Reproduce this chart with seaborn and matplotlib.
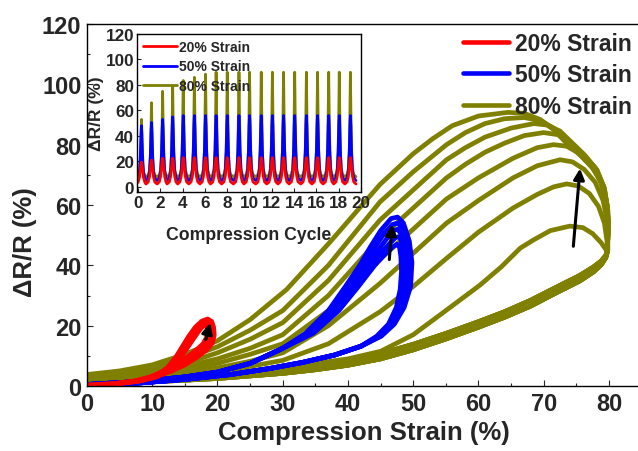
import matplotlib
matplotlib.use('Agg')
import matplotlib.pyplot as plt
from matplotlib.lines import Line2D
import seaborn as sns

# ---------------- colours / labels ----------------
c20, c50, c80 = '#FF0000', '#0000FF', '#808000'
labels = ['20% Strain', '50% Strain', '80% Strain']

# ---------------- main plot: hysteresis loops ----------------
# 20% strain loops (full loop, loading then unloading)
red_loops = [
    ([0, 4, 8, 10.5, 12.3, 13.6, 14.6, 15.6, 16.6, 17.6, 18.5, 19.1, 19.4, 19.5, 19.2, 18.4, 16.9, 15, 12.8, 10.3, 7.5, 4, 0],
     [0.3, 0.8, 1.8, 3.3, 6, 9.5, 13, 16.5, 19.5, 21.5, 22.2, 21.4, 19.5, 16.8, 14.2, 12.1, 9.6, 7, 4.8, 2.9, 1.5, 0.6, 0]),
    ([0, 4, 8, 10.6, 12.5, 13.8, 14.8, 15.8, 16.8, 17.6, 18.3, 18.8, 19.0, 18.9, 18.5, 17.7, 16.2, 14.4, 12.4, 10, 7.3, 4, 0],
     [0.2, 0.7, 1.7, 3.1, 5.7, 9, 12.4, 15.8, 18.7, 20.6, 21.3, 20.5, 18.8, 16.5, 14.3, 12.3, 9.9, 7.4, 5, 3, 1.6, 0.6, 0]),
    ([0, 4, 8, 10.7, 12.7, 14, 15.1, 16.1, 17, 17.6, 18.1, 18.4, 18.5, 18.3, 17.8, 16.9, 15.6, 13.9, 12, 9.8, 7.2, 4, 0],
     [0.2, 0.6, 1.6, 3, 5.5, 8.6, 11.8, 15, 17.8, 19.5, 20.2, 19.5, 18, 16, 14, 12.2, 10, 7.6, 5.2, 3.1, 1.6, 0.6, 0]),
]

# 50% strain loops: common start, per-cycle top, common end
blue_start_x = [0, 8, 15, 20, 25, 30]
blue_start_y = [0.5, 1.5, 3, 4.6, 7.5, 12.5]
blue_tops = [
    ([33.5, 37, 39.6, 41.8, 43.4, 45, 46.6, 47.6, 48.5, 49.4, 49.8, 49.6, 48.6, 47.1, 45.1],
     [17.5, 25, 33, 40, 46, 51.5, 55.5, 56, 54, 48, 41, 33, 26, 20.5, 16.5]),
    ([33.8, 37.4, 40.1, 42.4, 44, 45.5, 46.8, 47.6, 48.3, 49.1, 49.4, 49.2, 48.3, 46.8, 44.9],
     [17.5, 25, 33, 40, 45.5, 50.5, 53.5, 54, 52.5, 47, 40.5, 33, 26, 20.5, 16.5]),
    ([34.1, 37.8, 40.6, 43, 44.6, 46, 47, 47.6, 48.1, 48.7, 49, 48.8, 48, 46.6, 44.8],
     [17.5, 25, 33, 40, 45, 49, 51.5, 52, 50.5, 46, 40, 33, 26, 20.5, 16.5]),
    ([34.4, 38.2, 41.1, 43.6, 45.2, 46.5, 47.3, 47.8, 48.1, 48.4, 48.6, 48.4, 47.7, 46.4, 44.6],
     [17.5, 25, 33, 40, 44.5, 47.5, 49.2, 49.5, 48.5, 45, 40, 33, 26, 20.5, 16.5]),
    ([34.7, 38.6, 41.6, 44.1, 45.6, 46.8, 47.5, 47.9, 48.1, 48.2, 48, 47.4, 46.2, 44.4],
     [17.5, 25, 33, 40, 43.5, 46, 47, 46, 43, 38, 32, 26, 20.5, 16.5]),
]
blue_end_x = [42, 38, 33, 28, 22, 15, 8, 0]
blue_end_y = [13.2, 10.3, 7.8, 5.8, 3.8, 2.2, 1, 0.3]

# 80% strain loops: rising branch + peak + right side per cycle, then return branch
olive_tops = [
    ([0, 10, 20, 30, 40, 45, 50, 55, 60.2, 63.5, 66.4, 68.5, 71, 74, 76, 77.5, 78.8, 79.6],
     [2, 2.5, 4, 6, 9, 11.5, 17, 25, 33.4, 39.5, 45.7, 48.5, 51.5, 53, 52.5, 50.5, 47.5, 45]),
    ([0, 5, 10, 15, 20, 25, 30, 37, 44.9, 50, 55.1, 60, 65.3, 69, 71.5, 73.5, 75.3, 77, 78.4, 79.3, 79.7],
     [2.3, 2.6, 3, 3.8, 5, 6.5, 8.5, 14, 24.6, 33, 42.3, 51, 59, 63.5, 66, 67, 66.3, 63.8, 59.5, 54, 48]),
    ([0, 5, 10, 15, 20, 25, 30, 37, 44.9, 50, 55.1, 60, 65.3, 69, 72.5, 74.4, 76.2, 77.9, 79.1, 79.7, 79.8],
     [2.5, 3, 3.5, 4.6, 6, 8.2, 11, 20, 34, 44, 54, 61.5, 69, 73, 75, 74.3, 71.8, 67.5, 61.5, 55, 48]),
    ([0, 5, 10, 15, 20, 25, 30, 37, 44.9, 50, 55.1, 60, 65.3, 69, 71.5, 73.5, 75.3, 77.1, 78.6, 79.5, 79.9, 79.8],
     [2.7, 3.3, 4, 5.5, 7.5, 10.5, 14, 25, 42, 52, 62, 69, 75.5, 79, 80, 79.5, 77.3, 73.5, 68.5, 62, 55, 48]),
    ([0, 5, 10, 15, 20, 25, 30, 37, 44.9, 50, 55.1, 58, 61, 64, 67, 70, 72.2, 74, 75.9, 78, 79.3, 79.8, 79.9, 79.8],
     [3, 3.6, 4.5, 6.5, 9, 12.5, 17, 30, 49, 59, 69, 73.5, 77.5, 80.5, 83, 84, 83.3, 81, 77.2, 72, 65.5, 58.5, 52, 48]),
    ([0, 5, 10, 15, 20, 25, 30, 37, 44.9, 50, 55.1, 58, 61, 65, 68.5, 70.5, 72.5, 74.4, 76.3, 78.2, 79.3, 79.8, 79.9, 79.8],
     [3.2, 4, 5, 7.5, 11, 15.5, 21, 35, 55, 65, 75, 79, 82.5, 85.5, 87, 86.5, 84.5, 80.5, 76.5, 71.5, 65.5, 58.5, 52, 48]),
    ([0, 5, 10, 15, 20, 25, 30, 37, 44.9, 50, 55.1, 58, 61, 64, 67, 69.5, 71.5, 73.5, 75.8, 77.9, 79.2, 79.8, 79.9, 79.8],
     [3.5, 4.5, 6, 9, 13, 18.5, 25, 40, 61, 71, 80, 84, 87, 88.6, 89, 88, 85.5, 81.5, 77.2, 72.3, 66, 59, 52, 48]),
    ([0, 5, 10, 15, 20, 25, 30.6, 37.2, 44.9, 50, 53, 56, 60, 64.5, 67, 69.5, 71.5, 73.5, 75.6, 77.6, 79, 79.7, 79.9, 79.8],
     [3.8, 5, 7, 10.5, 15, 22, 32, 47.6, 66.8, 77, 82, 86.3, 89.5, 90.7, 90.4, 88.3, 85, 80.5, 76.5, 72, 66.5, 60, 53, 48]),
]
olive_ret_x = [79.8, 79.5, 78.8, 77.6, 75.5, 72, 68, 64, 60, 55, 50, 45, 40, 35, 30, 20, 10, 0]
olive_ret_a = [45, 42.5, 40.2, 37.8, 34.8, 31, 26.5, 22.8, 19.5, 15.6, 12, 9, 6.9, 5.4, 4.2, 2.5, 1.4, 0.8]
olive_ret_b = [45, 43.2, 41.4, 39.4, 36.6, 32.8, 28.4, 24.6, 21.3, 17.4, 13.8, 10.7, 8.4, 6.6, 5.1, 3.0, 1.8, 1.0]

# arrows (tail -> tip)
arrows = [((18.1, 14.5), (19.0, 21.8)), ((46.3, 41), (46.8, 54.5)), ((74.5, 45.4), (75.6, 73))]

# ---------------- inset: response vs compression cycle ----------------
cycle_peak_t = [0.3, 1.2, 2.2, 3.1, 4.05, 5.05, 6.05, 7.0, 8.0, 9.05,
                10.0, 11.05, 12.05, 13.05, 14.05, 15.1, 16.1, 17.1, 18.05, 19.05]
peak_20 = [19.5, 21, 22.5, 22.5, 23, 23, 23, 23, 23, 23, 23, 23, 23, 23, 23, 23, 23, 23, 23, 23]
peak_50 = [48, 50.5, 53, 55, 56, 56, 56, 56, 56, 56, 56, 56, 56, 56, 56, 56, 56, 56, 56, 56]
peak_80 = [53, 66, 75, 79.5, 83.5, 86, 88.5, 90, 90, 90, 90, 90, 90, 90, 90, 90, 90, 90, 90, 90]
valley_20, valley_50, valley_80 = 2.3, 5, 8
pulse_dt = [-0.5, -0.3, -0.18, -0.1, -0.04, 0, 0.04, 0.1, 0.18, 0.3]
shape_20 = [0, 0.08, 0.3, 0.65, 0.92, 1, 0.92, 0.65, 0.3, 0.08]
shape_50 = [0, 0.04, 0.15, 0.45, 0.85, 1, 0.85, 0.45, 0.15, 0.04]
shape_80 = [0, 0.02, 0.08, 0.25, 0.65, 1, 0.65, 0.25, 0.08, 0.02]


def pulse_train(peaks, valley, shape):
    t, v = [], []
    for tp, pk in zip(cycle_peak_t, peaks):
        for dt, f in zip(pulse_dt, shape):
            t.append(tp + dt)
            v.append(valley + f * (pk - valley))
    t.append(cycle_peak_t[-1] + 0.5)
    v.append(valley)
    return t, v


# ---------------- style ----------------
sns.set_theme(style='ticks')
plt.rcParams['font.family'] = ['Liberation Sans', 'DejaVu Sans']
plt.rcParams.update({
    'font.weight': 'bold', 'axes.labelweight': 'bold',
    'xtick.direction': 'in', 'ytick.direction': 'in',
    'axes.linewidth': 1.0, 'axes.edgecolor': 'black',
})

fig = plt.figure(figsize=(6.38, 4.52), dpi=100)
ax = fig.add_axes([87 / 638, 1 - 387 / 452, (641.6 - 87) / 638, (387 - 25) / 452])

LW = 3.4
for i, (ux, uy) in enumerate(olive_tops):
    ret = olive_ret_a if i % 2 == 0 else olive_ret_b
    sns.lineplot(x=ux + olive_ret_x, y=uy + ret, sort=False, estimator=None,
                 color=c80, lw=LW, ax=ax)
for tx, ty in blue_tops:
    sns.lineplot(x=blue_start_x + tx + blue_end_x, y=blue_start_y + ty + blue_end_y,
                 sort=False, estimator=None, color=c50, lw=LW, ax=ax)
for rx, ry in red_loops:
    sns.lineplot(x=rx, y=ry, sort=False, estimator=None, color=c20, lw=LW, ax=ax)

for tail, tip in arrows:
    ax.annotate('', xy=tip, xytext=tail,
                arrowprops=dict(arrowstyle='-|>', color='black', lw=2.2, mutation_scale=16))

ax.set_xlim(0, 85)
ax.set_ylim(0, 120)
ax.set_xticks(range(0, 81, 10))
ax.set_xticks(range(5, 85, 10), minor=True)
ax.set_yticks(range(0, 121, 20))
ax.set_yticks(range(10, 120, 20), minor=True)
ax.tick_params(which='major', length=4, width=0.8, labelsize=17, pad=4)
ax.tick_params(which='minor', length=2.5, width=0.8)
ax.spines['right'].set_visible(False)
ax.set_xlabel('Compression Strain (%)', fontsize=18.5, labelpad=4)
ax.set_ylabel('\u0394R/R (%)', fontsize=18.5)
ax.yaxis.set_label_coords(-0.09, 0.40)

handles = [Line2D([], [], color=c, lw=3.3) for c in (c20, c50, c80)]
ax.legend(handles, labels, loc='upper left', bbox_to_anchor=(463 / 638, 1 - 33 / 452),
          bbox_transform=fig.transFigure, frameon=False, fontsize=16.5,
          handlelength=2.0, handletextpad=0.25, labelspacing=0.37,
          borderpad=0, borderaxespad=0)

# ---------------- inset ----------------
ins = fig.add_axes([137 / 638, 1 - 193 / 452, 224 / 638, 158 / 452])
for peaks, valley, shape, c in ((peak_80, valley_80, shape_80, c80),
                                (peak_50, valley_50, shape_50, c50),
                                (peak_20, valley_20, shape_20, c20)):
    t, v = pulse_train(peaks, valley, shape)
    sns.lineplot(x=t, y=v, sort=False, estimator=None, color=c, lw=2.0, ax=ins)
ins.set_xlim(-0.1, 20)
ins.set_ylim(-4, 120)
ins.set_xticks(range(0, 21, 2))
ins.set_yticks(range(0, 121, 20))
ins.tick_params(length=3, width=0.8, labelsize=12.3, pad=2)
ins.set_xlabel('Compression Cycle', fontsize=12.7, labelpad=12)
ins.set_ylabel('\u0394R/R (%)', fontsize=12.5, labelpad=1)
ih = [Line2D([], [], color=c, lw=2.0) for c in (c20, c50, c80)]
ins.legend(ih, labels, loc='upper left', bbox_to_anchor=(0, 1), frameon=False,
           prop={'size': 10, 'weight': 'bold'}, handlelength=2.5, handletextpad=0.15,
           labelspacing=0.42, borderpad=0.1, borderaxespad=0.3)

fig.savefig('out.png', dpi=100)
